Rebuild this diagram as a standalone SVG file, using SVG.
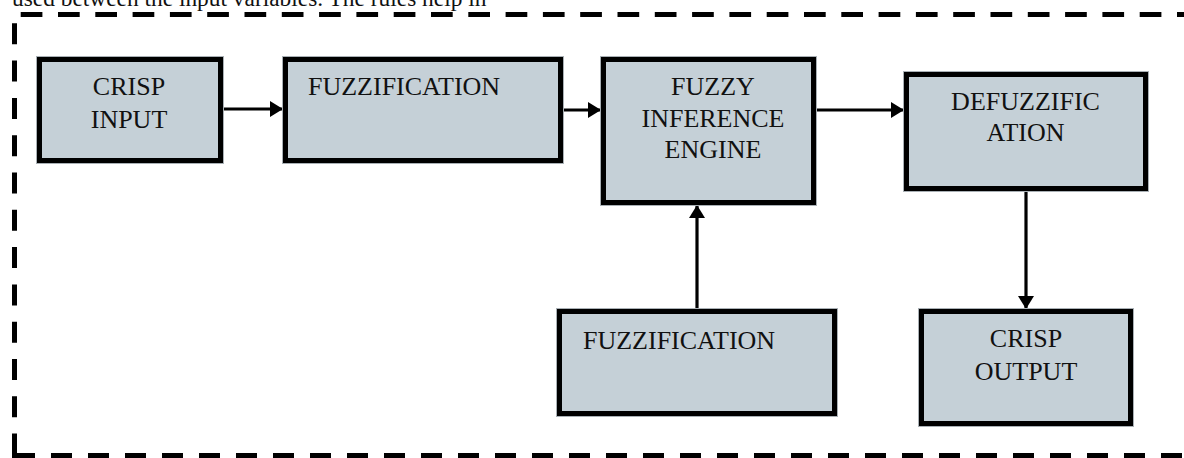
<svg xmlns="http://www.w3.org/2000/svg" width="1184" height="458" viewBox="0 0 1184 458">
  <style>
    .box { fill: #c5d0d7; stroke: #000; stroke-width: 5; }
    .halo { fill: none; stroke: #a9b0b5; stroke-width: 1; }
    .lbl { font-family: "Liberation Serif", "Times New Roman", serif; font-size: 26px; fill: #111; }
    .mid { text-anchor: middle; }
    .frame { fill: none; stroke: #000; stroke-width: 5; stroke-linecap: butt; }
    .wire { fill: none; stroke: #000; stroke-width: 3.2; }
    .para { font-family: "Liberation Serif", "Times New Roman", serif; font-size: 23.4px; fill: #111; }
  </style>
  <defs>
    <marker id="head" markerUnits="userSpaceOnUse" markerWidth="14" markerHeight="16" refX="13" refY="8" orient="auto">
      <path d="M0,0 L13,8 L0,16 Z" fill="#000"/>
    </marker>
  </defs>

  <rect width="1184" height="458" fill="#fff"/>

  <!-- running text line above the figure -->
  <text class="para" x="12" y="6">used between the input variables. The rules help in</text>

  <!-- dashed enclosure -->
  <g id="frame">
    <path class="frame" d="M20.7,14.5 L1184,14.5" stroke-dasharray="21.7 15.6"/>
    <path class="frame" d="M14.5,23.3 L14.5,455" stroke-dasharray="21 16.3"/>
    <path class="frame" d="M12,455.5 L1184,455.5" stroke-dasharray="23 16 21 16 21 16 21 16 21 16 21 16 21 16 21 16 21 16 21 16 21 16 21 16 21 16 21 16 21 16 21 16 21 16 21 16 21 16 21 16 21 16 21 16 21 16 21 16 21 16 21 16 21 16 21 16 21 16 21 16 21 16 21 16 21 16 21 16 21 16 21 16 21 16 21 16 21 16"/>
  </g>

  <!-- connectors -->
  <g id="connectors">
    <path class="wire" d="M223,109 L283,109" marker-end="url(#head)"/>
    <path class="wire" d="M563,110 L601,110" marker-end="url(#head)"/>
    <path class="wire" d="M816,110 L904,110" marker-end="url(#head)"/>
    <path class="wire" d="M697,309 L697,205" marker-end="url(#head)"/>
    <path class="wire" d="M1026,191 L1026,309" marker-end="url(#head)"/>
  </g>

  <g id="crisp-input">
    <rect class="halo" x="36.5" y="56.5" width="187" height="107"/>
    <rect class="box" x="39.5" y="59.5" width="181" height="101"/>
    <text class="lbl mid" x="129" y="95">CRISP</text>
    <text class="lbl mid" x="129" y="128">INPUT</text>
  </g>

  <g id="fuzzification">
    <rect class="halo" x="282.5" y="56.5" width="281" height="107"/>
    <rect class="box" x="285.5" y="59.5" width="275" height="101"/>
    <text class="lbl" x="308" y="95">FUZZIFICATION</text>
  </g>

  <g id="inference-engine">
    <rect class="halo" x="600.5" y="56.5" width="216" height="149"/>
    <rect class="box" x="603.5" y="59.5" width="210" height="143"/>
    <text class="lbl mid" x="713" y="95">FUZZY</text>
    <text class="lbl mid" x="713" y="127">INFERENCE</text>
    <text class="lbl mid" x="713" y="158">ENGINE</text>
  </g>

  <g id="defuzzification">
    <rect class="halo" x="903.5" y="71.5" width="245" height="120"/>
    <rect class="box" x="906.5" y="74.5" width="239" height="114"/>
    <text class="lbl mid" x="1025.5" y="110">DEFUZZIFIC</text>
    <text class="lbl mid" x="1025.5" y="141">ATION</text>
  </g>

  <g id="rule-base">
    <rect class="halo" x="556.5" y="308.5" width="281" height="108"/>
    <rect class="box" x="559.5" y="311.5" width="275" height="102"/>
    <text class="lbl" x="583" y="349">FUZZIFICATION</text>
  </g>

  <g id="crisp-output">
    <rect class="halo" x="918.5" y="308.5" width="215" height="118"/>
    <rect class="box" x="921.5" y="311.5" width="209" height="112"/>
    <text class="lbl mid" x="1026" y="347">CRISP</text>
    <text class="lbl mid" x="1026" y="380">OUTPUT</text>
  </g>
</svg>
